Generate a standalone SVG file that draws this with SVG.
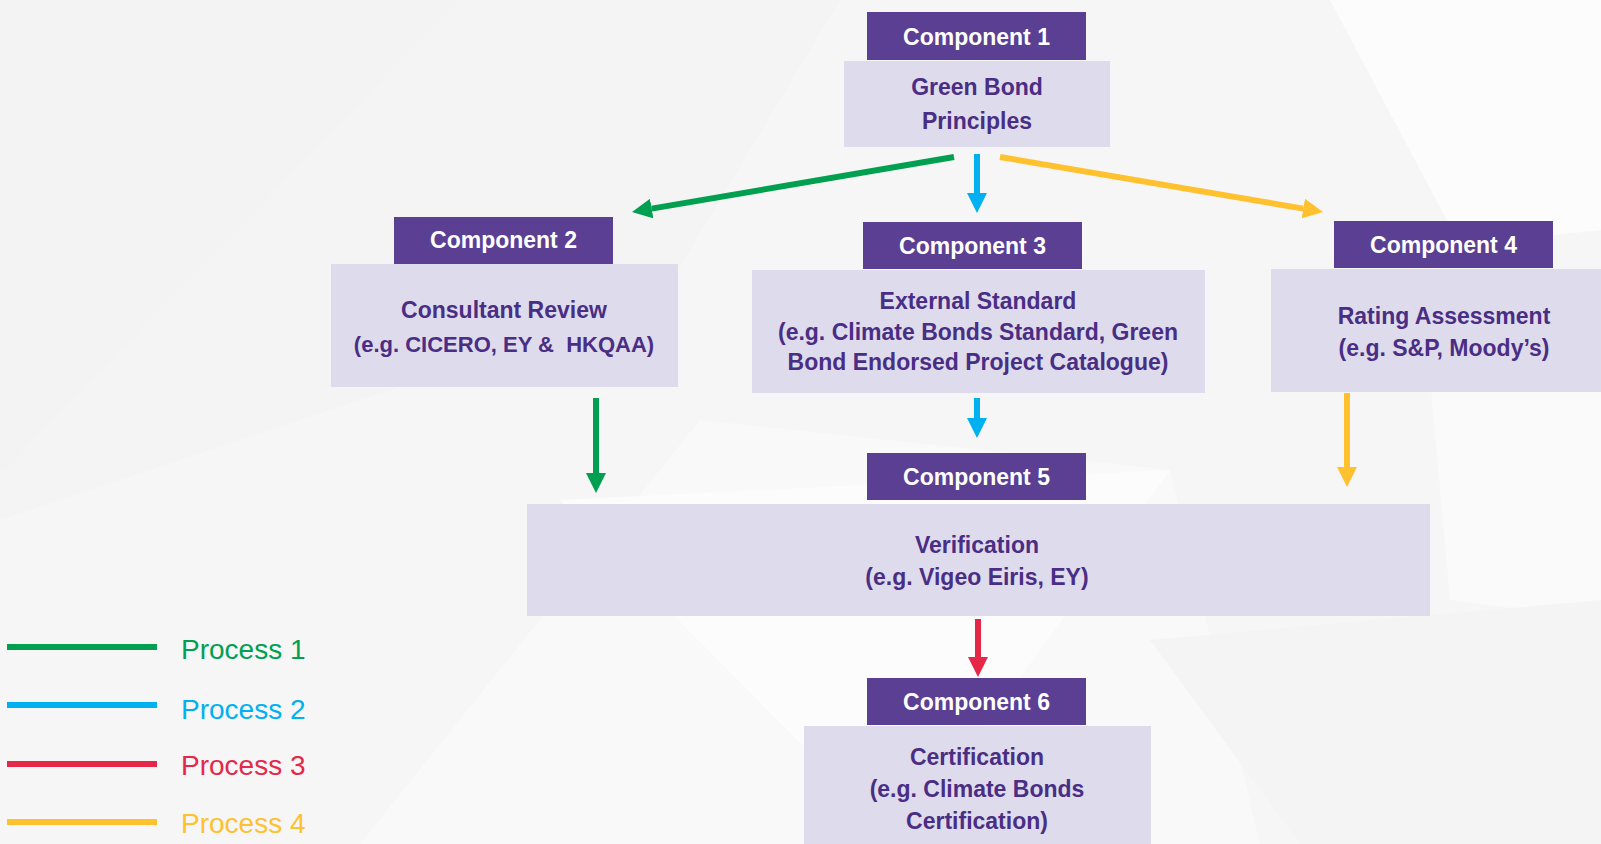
<svg xmlns="http://www.w3.org/2000/svg" width="1601" height="844" viewBox="0 0 1601 844">
<defs>
<style>
.hd{fill:#5A3F93}
.bd{fill:#DEDCEC}
.ht{font-family:"Liberation Sans",Arial,sans-serif;font-weight:bold;font-size:23px;fill:#FFFFFF;text-anchor:middle}
.bt{font-family:"Liberation Sans",Arial,sans-serif;font-weight:bold;font-size:23px;fill:#4A2D84;text-anchor:middle}
.lg{font-family:"Liberation Sans",Arial,sans-serif;font-size:28px}
.c{stroke-width:6;fill:none}
</style>
<marker id="ag" viewBox="0 0 20 20" refX="0" refY="10" markerWidth="20" markerHeight="20" markerUnits="userSpaceOnUse" orient="auto"><path d="M0,0 L20,10 L0,20 z" fill="#00A050"/></marker>
<marker id="ab" viewBox="0 0 20 20" refX="0" refY="10" markerWidth="20" markerHeight="20" markerUnits="userSpaceOnUse" orient="auto"><path d="M0,0 L20,10 L0,20 z" fill="#00B0F0"/></marker>
<marker id="ar" viewBox="0 0 20 20" refX="0" refY="10" markerWidth="20" markerHeight="20" markerUnits="userSpaceOnUse" orient="auto"><path d="M0,0 L20,10 L0,20 z" fill="#E52848"/></marker>
<marker id="ay" viewBox="0 0 20 20" refX="0" refY="10" markerWidth="20" markerHeight="20" markerUnits="userSpaceOnUse" orient="auto"><path d="M0,0 L20,10 L0,20 z" fill="#FFC12E"/></marker>
</defs>
<g id="background">
<rect x="0" y="0" width="1601" height="844" fill="#F6F6F6"/>
<polygon points="0,0 460,0 0,475" fill="#F3F3F3"/>
<polygon points="0,475 460,0 840,0 660,300 0,520" fill="#F4F4F4"/>
<polygon points="1330,0 1601,0 1601,230 1460,245" fill="#FCFCFC"/>
<polygon points="360,844 700,420 1170,470 1260,844" fill="#F9F9F9"/>
<polygon points="560,500 1170,470 900,844" fill="#FCFCFC"/>
<polygon points="1430,380 1601,330 1601,620 1450,600" fill="#FAFAFA"/>
<polygon points="1150,640 1601,600 1601,844 1300,844" fill="#F4F4F4"/>
</g>
<g id="connectors">
<line class="c" x1="954" y1="157" x2="651.7" y2="208.6" stroke="#00A050" marker-end="url(#ag)"/>
<line class="c" x1="977" y1="154" x2="977" y2="193" stroke="#00B0F0" marker-end="url(#ab)"/>
<line class="c" x1="1000" y1="157" x2="1303.3" y2="208.6" stroke="#FFC12E" marker-end="url(#ay)"/>
<line class="c" x1="596" y1="398" x2="596" y2="473" stroke="#00A050" marker-end="url(#ag)"/>
<line class="c" x1="977" y1="398" x2="977" y2="418" stroke="#00B0F0" marker-end="url(#ab)"/>
<line class="c" x1="1347" y1="393" x2="1347" y2="467" stroke="#FFC12E" marker-end="url(#ay)"/>
<line class="c" x1="978" y1="619" x2="978" y2="657" stroke="#E52848" marker-end="url(#ar)"/>
</g>
<g id="component1">
<rect class="hd" x="867" y="12" width="219" height="48"/>
<text class="ht" x="976.5" y="45">Component 1</text>
<rect class="bd" x="844" y="61" width="266" height="86"/>
<text class="bt" x="977" y="95">Green Bond</text>
<text class="bt" x="977" y="129">Principles</text>
</g>
<g id="component2">
<rect class="bd" x="331" y="264" width="347" height="123"/>
<rect class="hd" x="394" y="217" width="219" height="47"/>
<text class="ht" x="503.5" y="248">Component 2</text>
<text class="bt" x="504" y="318">Consultant Review</text>
<text class="bt" x="504" y="352" style="font-size:22px" xml:space="preserve">(e.g. CICERO, EY &amp;  HKQAA)</text>
</g>
<g id="component3">
<rect class="bd" x="752" y="270" width="453" height="123"/>
<rect class="hd" x="863" y="222" width="219" height="47"/>
<text class="ht" x="972.5" y="254">Component 3</text>
<text class="bt" x="978" y="309">External Standard</text>
<text class="bt" x="978" y="340">(e.g. Climate Bonds Standard, Green</text>
<text class="bt" x="978" y="370">Bond Endorsed Project Catalogue)</text>
</g>
<g id="component4">
<rect class="bd" x="1271" y="269" width="330" height="123"/>
<rect class="hd" x="1334" y="221" width="219" height="47"/>
<text class="ht" x="1443.5" y="253">Component 4</text>
<text class="bt" x="1444" y="324">Rating Assessment</text>
<text class="bt" x="1444" y="356">(e.g. S&amp;P, Moody’s)</text>
</g>
<g id="component5">
<rect class="bd" x="527" y="504" width="903" height="112"/>
<rect class="hd" x="867" y="453" width="219" height="47"/>
<text class="ht" x="976.5" y="485">Component 5</text>
<text class="bt" x="977" y="553">Verification</text>
<text class="bt" x="977" y="585">(e.g. Vigeo Eiris, EY)</text>
</g>
<g id="component6">
<rect class="bd" x="804" y="726" width="347" height="130"/>
<rect class="hd" x="867" y="678" width="219" height="47"/>
<text class="ht" x="976.5" y="710">Component 6</text>
<text class="bt" x="977" y="765">Certification</text>
<text class="bt" x="977" y="797">(e.g. Climate Bonds</text>
<text class="bt" x="977" y="829">Certification)</text>
</g>
<g id="legend">
<line x1="7" y1="647" x2="157" y2="647" stroke="#00A050" stroke-width="6"/>
<text class="lg" x="181" y="659" fill="#00A050">Process 1</text>
<line x1="7" y1="705" x2="157" y2="705" stroke="#00B0F0" stroke-width="6"/>
<text class="lg" x="181" y="719" fill="#00B0F0">Process 2</text>
<line x1="7" y1="764" x2="157" y2="764" stroke="#E52848" stroke-width="6"/>
<text class="lg" x="181" y="775" fill="#E52848">Process 3</text>
<line x1="7" y1="822" x2="157" y2="822" stroke="#FFC12E" stroke-width="6"/>
<text class="lg" x="181" y="833" fill="#FFC12E">Process 4</text>
</g>
</svg>
